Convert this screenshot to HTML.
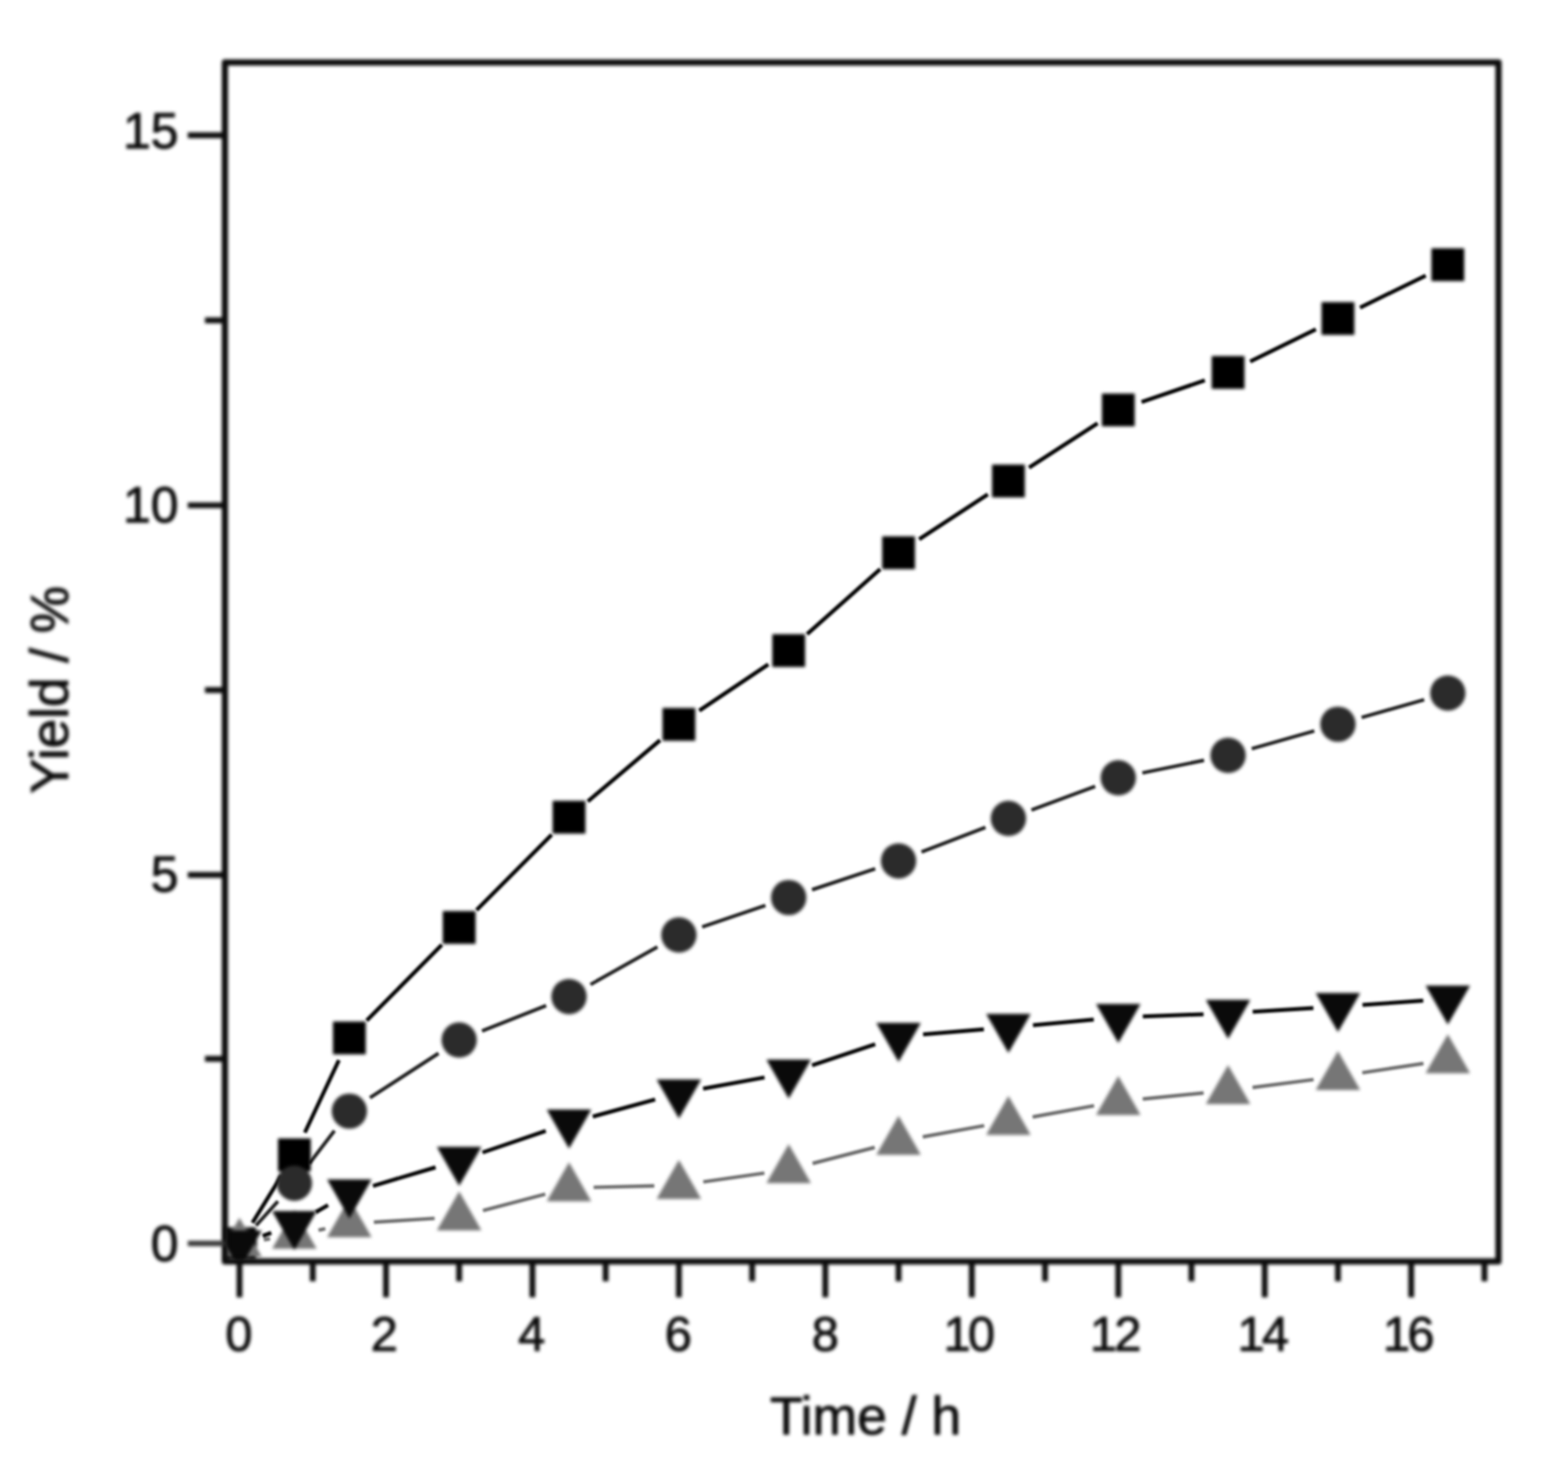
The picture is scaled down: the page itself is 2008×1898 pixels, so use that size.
<!DOCTYPE html>
<html lang="en"><head><meta charset="utf-8"><title>Yield / % vs Time / h</title>
<style>
html,body{margin:0;padding:0;background:#fff;}
body{width:2008px;height:1898px;overflow:hidden;}
svg{display:block;}
text{font-family:"Liberation Sans",sans-serif;fill:#0c0c0c;stroke:#0c0c0c;stroke-width:1.1px;}
</style></head><body>
<svg width="2008" height="1898" viewBox="0 0 2008 1898">
<rect x="0" y="0" width="2008" height="1898" fill="#fff"/>
<defs><clipPath id="plot"><rect x="288.0" y="79.9" width="1631.0" height="1535.5"/></clipPath><filter id="bl" filterUnits="userSpaceOnUse" x="0" y="0" width="2008" height="1898" color-interpolation-filters="sRGB"><feGaussianBlur stdDeviation="1.5"/></filter><filter id="bm" filterUnits="userSpaceOnUse" x="0" y="0" width="2008" height="1898" color-interpolation-filters="sRGB"><feGaussianBlur stdDeviation="1.9"/></filter><filter id="bf" filterUnits="userSpaceOnUse" x="0" y="0" width="2008" height="1898" color-interpolation-filters="sRGB"><feGaussianBlur stdDeviation="2.2"/></filter><filter id="bt" filterUnits="userSpaceOnUse" x="0" y="0" width="2008" height="1898" color-interpolation-filters="sRGB"><feGaussianBlur stdDeviation="2.0"/></filter></defs>
<g filter="url(#bl)"><g clip-path="url(#plot)">
<path d="M323.3 1566.0L360.5 1505.8M390.4 1450.5L434.0 1357.8M469.6 1307.0L565.8 1210.1M610.3 1165.5L706.5 1068.9M752.8 1026.3L845.3 948.0M895.5 910.1L983.9 850.8M1033.6 812.2L1127.2 728.9M1177.1 690.7L1265.0 633.2M1317.8 598.9L1405.6 542.1M1461.9 514.8L1542.9 487.2M1601.0 463.1L1685.1 421.8M1741.7 394.0L1825.8 352.9" stroke="#000" stroke-width="5.0" fill="none"/>
<path d="M327.9 1569.5L355.9 1538.6M396.1 1490.2L428.3 1448.1M473.8 1405.9L561.6 1349.0M617.3 1320.3L699.4 1287.9M756.2 1260.9L841.9 1212.8M899.2 1187.2L980.2 1159.7M1039.9 1139.5L1120.8 1112.6M1180.1 1091.2L1262.0 1059.6M1320.9 1037.3L1402.5 1007.1M1462.9 989.9L1541.9 973.7M1603.0 958.8L1683.1 936.1M1743.7 918.9L1823.8 896.2" stroke="#1c1c1c" stroke-width="4.5" fill="none"/>
<path d="M337.9 1587.7L345.9 1586.5M407.9 1575.5L416.6 1573.6M478.8 1565.2L556.6 1560.4M618.5 1550.4L698.3 1529.4M760.2 1520.6L837.9 1518.8M900.6 1513.6L978.9 1502.4M1040.6 1490.0L1120.2 1469.5M1181.7 1456.0L1260.4 1441.7M1322.4 1430.5L1401.1 1416.2M1463.4 1407.5L1541.4 1399.8M1604.0 1392.7L1682.2 1382.6M1744.5 1373.9L1822.9 1362.0" stroke="#686868" stroke-width="4.4" fill="none"/>
<path d="M336.4 1582.8L347.4 1578.8M404.3 1552.5L420.1 1543.4M477.6 1518.8L557.8 1495.0M617.9 1476.0L698.9 1448.4M759.1 1430.0L839.0 1408.2M900.4 1394.3L979.1 1379.9M1039.9 1364.3L1120.8 1337.4M1182.1 1324.8L1260.0 1318.3M1322.8 1312.9L1400.7 1305.8M1463.5 1301.8L1541.3 1298.9M1604.2 1295.8L1682.0 1291.0M1744.8 1287.0L1822.6 1281.6" stroke="#000" stroke-width="5.0" fill="none"/>
</g></g>
<g filter="url(#bm)"><g clip-path="url(#plot)">
<g fill="#000"><rect x="285.7" y="1571.8" width="42.0" height="42.0"/><rect x="356.0" y="1458.0" width="42.0" height="42.0"/><rect x="426.4" y="1308.3" width="42.0" height="42.0"/><rect x="567.0" y="1166.8" width="42.0" height="42.0"/><rect x="707.7" y="1025.6" width="42.0" height="42.0"/><rect x="848.4" y="906.7" width="42.0" height="42.0"/><rect x="989.0" y="812.2" width="42.0" height="42.0"/><rect x="1129.7" y="686.9" width="42.0" height="42.0"/><rect x="1270.4" y="595.0" width="42.0" height="42.0"/><rect x="1411.1" y="504.0" width="42.0" height="42.0"/><rect x="1551.7" y="456.0" width="42.0" height="42.0"/><rect x="1692.4" y="386.9" width="42.0" height="42.0"/><rect x="1833.1" y="318.0" width="42.0" height="42.0"/></g>
<g fill="#2b2b2b"><circle cx="306.7" cy="1592.8" r="22.6"/><circle cx="377.0" cy="1515.3" r="22.6"/><circle cx="447.4" cy="1423.0" r="22.6"/><circle cx="588.0" cy="1331.9" r="22.6"/><circle cx="728.7" cy="1276.3" r="22.6"/><circle cx="869.4" cy="1197.4" r="22.6"/><circle cx="1010.0" cy="1149.5" r="22.6"/><circle cx="1150.7" cy="1102.6" r="22.6"/><circle cx="1291.4" cy="1048.2" r="22.6"/><circle cx="1432.1" cy="996.2" r="22.6"/><circle cx="1572.7" cy="967.4" r="22.6"/><circle cx="1713.4" cy="927.5" r="22.6"/><circle cx="1854.1" cy="887.6" r="22.6"/></g>
<g fill="#767676"><path d="M278.2 1609.5L335.2 1609.5L306.7 1559.5Z"/><path d="M348.5 1599.3L405.5 1599.3L377.0 1549.3Z"/><path d="M418.9 1584.4L475.9 1584.4L447.4 1534.4Z"/><path d="M559.5 1575.8L616.5 1575.8L588.0 1525.8Z"/><path d="M700.2 1538.6L757.2 1538.6L728.7 1488.6Z"/><path d="M840.9 1535.4L897.9 1535.4L869.4 1485.4Z"/><path d="M981.5 1515.2L1038.5 1515.2L1010.0 1465.2Z"/><path d="M1122.2 1478.9L1179.2 1478.9L1150.7 1428.9Z"/><path d="M1262.9 1453.4L1319.9 1453.4L1291.4 1403.4Z"/><path d="M1403.6 1427.9L1460.6 1427.9L1432.1 1377.9Z"/><path d="M1544.2 1414.0L1601.2 1414.0L1572.7 1364.0Z"/><path d="M1684.9 1395.9L1741.9 1395.9L1713.4 1345.9Z"/><path d="M1825.6 1374.6L1882.6 1374.6L1854.1 1324.6Z"/></g>
<g fill="#0a0a0a"><path d="M278.2 1576.1L335.2 1576.1L306.7 1626.1Z"/><path d="M348.5 1550.9L405.5 1550.9L377.0 1600.9Z"/><path d="M418.9 1510.4L475.9 1510.4L447.4 1560.4Z"/><path d="M559.5 1468.8L616.5 1468.8L588.0 1518.8Z"/><path d="M700.2 1421.0L757.2 1421.0L728.7 1471.0Z"/><path d="M840.9 1382.6L897.9 1382.6L869.4 1432.6Z"/><path d="M981.5 1357.0L1038.5 1357.0L1010.0 1407.0Z"/><path d="M1122.2 1310.1L1179.2 1310.1L1150.7 1360.1Z"/><path d="M1262.9 1298.4L1319.9 1298.4L1291.4 1348.4Z"/><path d="M1403.6 1285.7L1460.6 1285.7L1432.1 1335.7Z"/><path d="M1544.2 1280.4L1601.2 1280.4L1572.7 1330.4Z"/><path d="M1684.9 1271.8L1741.9 1271.8L1713.4 1321.8Z"/><path d="M1825.6 1262.2L1882.6 1262.2L1854.1 1312.2Z"/></g>
</g></g>
<g stroke="#0c0c0c" fill="none" stroke-linecap="butt" filter="url(#bf)">
<rect x="288.0" y="79.9" width="1631.0" height="1535.5" stroke-width="8.0" stroke-linejoin="round"/>
<path d="M288.0 1592.5H240.5" stroke="#3a3a3a" stroke-width="6.8"/>
<path d="M306.7 1615.4V1661.4M400.5 1615.4V1640.9M494.3 1615.4V1661.4M588.0 1615.4V1640.9M681.8 1615.4V1661.4M775.6 1615.4V1640.9M869.4 1615.4V1661.4M963.2 1615.4V1640.9M1056.9 1615.4V1661.4M1150.7 1615.4V1640.9M1244.5 1615.4V1661.4M1338.3 1615.4V1640.9M1432.1 1615.4V1661.4M1525.8 1615.4V1640.9M1619.6 1615.4V1661.4M1713.4 1615.4V1640.9M1807.2 1615.4V1661.4M1901.0 1615.4V1640.9M288.0 1356.0H262.5M288.0 1120.5H240.5M288.0 883.8H262.5M288.0 647.1H240.5M288.0 410.2H262.5M288.0 173.3H240.5" stroke-width="7.4"/>
</g>
<g filter="url(#bt)">
<g font-size="62.5" text-anchor="middle">
<text x="306.0" y="1729.6">0</text>
<text x="492.1" y="1729.6">2</text>
<text x="681.0" y="1729.6">4</text>
<text x="868.6" y="1729.6">6</text>
<text x="1056.9" y="1729.6">8</text>
<text x="1239.5" y="1729.6" letter-spacing="-3.5">10</text>
<text x="1427.1" y="1729.6" letter-spacing="-3.5">12</text>
<text x="1616.1" y="1729.6" letter-spacing="-3.5">14</text>
<text x="1802.2" y="1729.6" letter-spacing="-3.5">16</text>
</g>
<g font-size="64.0" text-anchor="end">
<text x="228.7" y="1615.0">0</text>
<text x="228.7" y="1142.1">5</text>
<text x="228.7" y="668.5">10</text>
<text x="228.7" y="190.1">15</text>
</g>
<text x="1108.5" y="1837" font-size="68.5" text-anchor="middle">Time / h</text>
<text transform="translate(87 883.5) rotate(-90)" font-size="68" text-anchor="middle">Yield / %</text>
</g>
</svg></body></html>
